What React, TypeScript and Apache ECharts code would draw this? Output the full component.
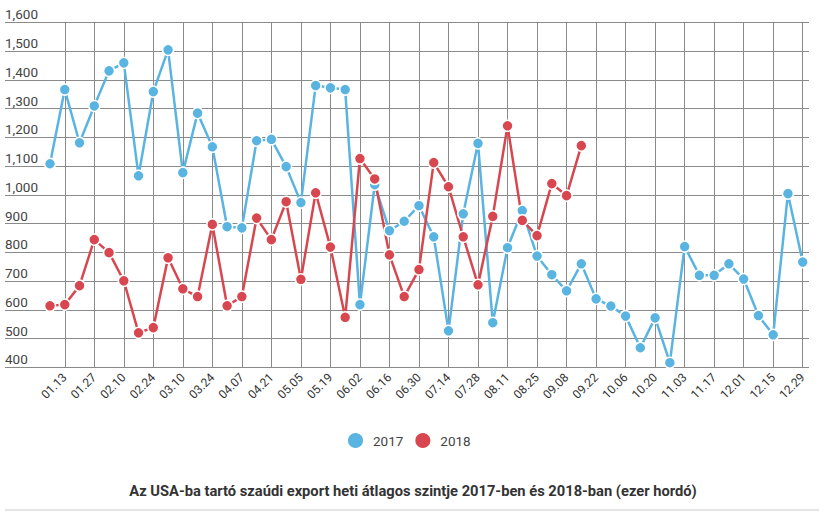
import React, { useEffect, useRef } from "react";
import * as echarts from "echarts";

const weeks: string[] = [
  "01.06", "01.13", "01.20", "01.27", "02.03", "02.10", "02.17", "02.24", "03.03", "03.10",
  "03.17", "03.24", "03.31", "04.07", "04.14", "04.21", "04.28", "05.05", "05.12", "05.19",
  "05.26", "06.02", "06.09", "06.16", "06.23", "06.30", "07.07", "07.14", "07.21", "07.28",
  "08.04", "08.11", "08.18", "08.25", "09.01", "09.08", "09.15", "09.22", "09.29", "10.06",
  "10.13", "10.20", "10.27", "11.03", "11.10", "11.17", "11.24", "12.01", "12.08", "12.15",
  "12.22", "12.29",
];

const values2017: number[] = [
  1108, 1366, 1181, 1309, 1431, 1459, 1066, 1359, 1504, 1077,
  1284, 1167, 889, 885, 1188, 1193, 1098, 973, 1380, 1372,
  1366, 618, 1035, 875, 908, 962, 854, 527, 934, 1179,
  555, 816, 945, 787, 722, 666, 760, 638, 613, 578,
  468, 572, 416, 820, 720, 720, 760, 707, 580, 513,
  1004, 766,
];

const values2018: number[] = [
  614, 618, 684, 844, 799, 701, 520, 538, 781, 673,
  646, 897, 614, 646, 919, 844, 976, 706, 1007, 818,
  574, 1126, 1055, 791, 646, 740, 1112, 1028, 854, 687,
  925, 1240, 911, 858, 1039, 997, 1171,
];

const seriesNames: string[] = ["2017", "2018"];
const titleText = "Az USA-ba tartó szaúdi export heti átlagos szintje 2017-ben és 2018-ban (ezer hordó)";

const BLUE = "#5ab4e2";
const RED = "#d8474f";
const GRID_COLOR = "#8a8a8a";
const FONT = "Roboto";

export default function App() {
  const ref = useRef<HTMLDivElement>(null);

  useEffect(() => {
    if (!ref.current) return;
    const chart = echarts.init(ref.current, undefined, { renderer: "svg" });
    const every2 = (i: number) => i % 2 === 1;
    const makeSeries = (name: string, data: number[], color: string) => ({
      name,
      type: "line",
      xAxisIndex: 1,
      yAxisIndex: 1,
      data,
      symbol: "circle",
      symbolSize: 11,
      showAllSymbol: true,
      lineStyle: { color, width: 2.5 },
      itemStyle: { color, borderColor: "#ffffff", borderWidth: 1.5 },
      emphasis: { disabled: true },
    });
    chart.setOption({
      animation: false,
      backgroundColor: "#ffffff",
      textStyle: { fontFamily: FONT },
      title: {
        text: titleText,
        left: "center",
        top: 478,
        textStyle: { fontFamily: FONT, fontSize: 14.7, fontWeight: "bold", color: "#333333" },
      },
      legend: {
        data: seriesNames,
        left: 341,
        top: 426,
        icon: "circle",
        itemWidth: 17,
        itemHeight: 17,
        itemGap: 10,
        textStyle: { fontFamily: FONT, fontSize: 13.5, color: "#444444", padding: [0, 0, 0, 4] },
      },
      grid: [
        { left: 5, right: 17, top: 22.3, bottom: 148.7 },
        { left: 50, right: 23.3, top: 22.3, bottom: 148.7 },
      ],
      xAxis: [
        { gridIndex: 0, type: "value", show: false, min: 0, max: 1 },
        {
          gridIndex: 1,
          type: "category",
          data: weeks,
          boundaryGap: false,
          axisLine: { show: false },
          axisTick: { show: false },
          axisLabel: {
            interval: (i: number) => every2(i),
            rotate: 45,
            margin: 8,
            fontFamily: FONT,
            fontSize: 12,
            color: "#333333",
          },
          splitLine: {
            show: true,
            interval: (i: number) => every2(i),
            lineStyle: { color: GRID_COLOR, width: 1 },
          },
        },
      ],
      yAxis: [
        {
          gridIndex: 0,
          type: "value",
          min: 400,
          max: 1600,
          interval: 100,
          axisLine: { show: false },
          axisTick: { show: false },
          axisLabel: {
            inside: true,
            margin: 0,
            verticalAlign: "bottom",
            padding: [0, 0, 1, 0],
            fontFamily: FONT,
            fontSize: 13.5,
            color: "#444444",
            formatter: (v: number) => v.toLocaleString("en-US"),
          },
          splitLine: { show: true, lineStyle: { color: GRID_COLOR, width: 1 } },
        },
        {
          gridIndex: 1,
          type: "value",
          min: 400,
          max: 1600,
          interval: 100,
          show: false,
          splitLine: { show: false },
        },
      ],
      graphic: [
        {
          type: "line",
          shape: { x1: 5, y1: 510, x2: 819, y2: 510 },
          style: { stroke: "#dddddd", lineWidth: 1.5 },
        },
      ],
      series: [
        makeSeries(seriesNames[0], values2017, BLUE),
        makeSeries(seriesNames[1], values2018, RED),
      ],
    });
    return () => chart.dispose();
  }, []);

  return <div ref={ref} style={{ width: 826, height: 516, position: "absolute", left: 0, top: 0 }} />;
}
